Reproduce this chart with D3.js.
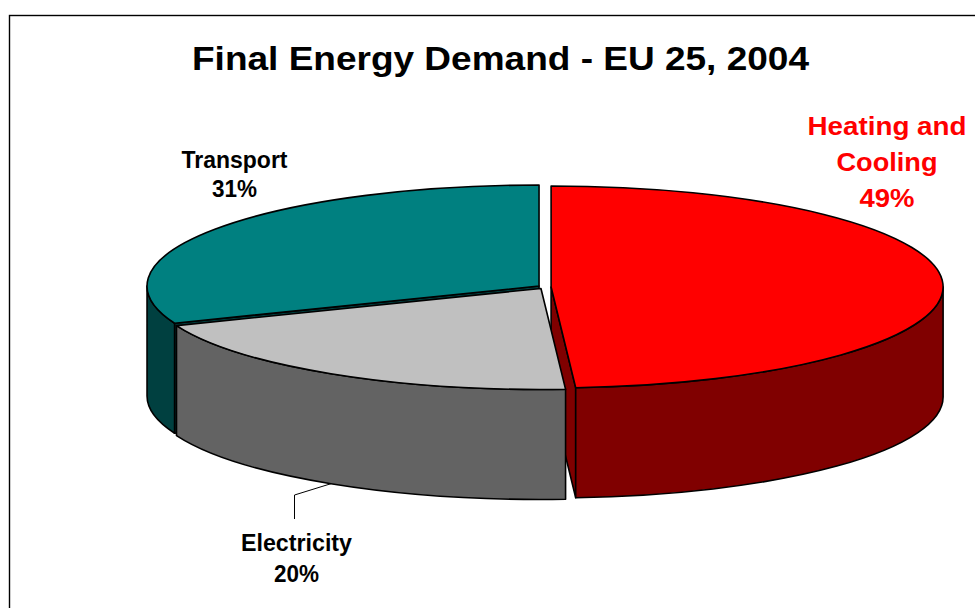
<!DOCTYPE html>
<html><head><meta charset="utf-8">
<script src="https://cdn.jsdelivr.net/npm/d3@7"></script>
<style>html,body{margin:0;padding:0;background:#fff;overflow:hidden}</style>
</head><body>
<svg id="c" width="975" height="608"></svg>
<script>
// ---- data ----
const categories = ["Heating and Cooling", "Electricity", "Transport"];
const shares = [49, 20, 31];
const labelLines = [["Heating and", "Cooling", "49%"], ["Electricity", "20%"], ["Transport", "31%"]];
const topColors = ["#ff0000", "#c0c0c0", "#008080"];
const sideColors = ["#800000", "#636363", "#004040"];
const labelColors = ["#ff0000", "#000000", "#000000"];
const title = "Final Energy Demand - EU 25, 2004";

// ---- layout ----
const W = 975, H = 608;
const cx = 544.5, cy = 287, rx = 392, ry = 101, depth = 110, explode = 6.6;
const svg = d3.select("#c");
const font = "'Liberation Sans', Arial, Helvetica, sans-serif";

// frame
svg.append("rect").attr("x", 9.5).attr("y", 15.5).attr("width", W + 20).attr("height", H + 20)
  .attr("fill", "#fff").attr("stroke", "#000").attr("stroke-width", 1.4);

const pie = d3.pie().sort(null).value(d => d).startAngle(0).endAngle(2 * Math.PI);
const arcs = pie(shares).map((a, i) => {
  const mid = (a.startAngle + a.endAngle) / 2;
  return Object.assign(a, {
    i, mid,
    ox: cx + explode * Math.sin(mid),
    oy: cy - explode * Math.cos(mid) * (ry / rx)
  });
});

const px = d3.scaleLinear().domain([-1, 1]).range([-rx, rx]);
const py = d3.scaleLinear().domain([-1, 1]).range([-ry, ry]);
function P(a, ang, dz = 0) {
  return [a.ox + px(Math.sin(ang)), a.oy - py(Math.cos(ang)) + dz];
}
function topPath(a) {
  const p0 = P(a, a.startAngle), p1 = P(a, a.endAngle);
  const large = (a.endAngle - a.startAngle) > Math.PI ? 1 : 0;
  return `M${a.ox},${a.oy}L${p0}A${rx},${ry} 0 ${large} 1 ${p1}Z`;
}
function sidePath(a) {
  const s = Math.max(a.startAngle, Math.PI / 2), e = Math.min(a.endAngle, 3 * Math.PI / 2);
  if (e <= s) return null;
  const t0 = P(a, s), t1 = P(a, e), b1 = P(a, e, depth), b0 = P(a, s, depth);
  return `M${t0}A${rx},${ry} 0 0 1 ${t1}L${b1}A${rx},${ry} 0 0 0 ${b0}Z`;
}
function radialPath(a, ang) {
  const p = P(a, ang), pb = P(a, ang, depth);
  return `M${a.ox},${a.oy}L${p}L${pb}L${a.ox},${a.oy + depth}Z`;
}

const order = [2, 0, 1]; // back to front
const g = svg.append("g").attr("stroke", "#000").attr("stroke-width", 1.6).attr("stroke-linejoin", "round");
order.forEach(i => {
  const a = arcs[i];
  const sg = g.append("g");
  if (Math.sin(a.startAngle) < -1e-6) sg.append("path").attr("d", radialPath(a, a.startAngle)).attr("fill", sideColors[i]);
  if (Math.sin(a.endAngle) > 1e-6) sg.append("path").attr("d", radialPath(a, a.endAngle)).attr("fill", sideColors[i]);
  const sp = sidePath(a);
  if (sp) sg.append("path").attr("d", sp).attr("fill", sideColors[i]);
  sg.append("path").attr("d", topPath(a)).attr("fill", topColors[i]);
});

// title
svg.append("text").attr("x", 500.5).attr("y", 70).attr("text-anchor", "middle")
  .attr("font-family", font).attr("font-weight", "bold").attr("font-size", 32.5)
  .attr("textLength", 617).attr("lengthAdjust", "spacingAndGlyphs").text(title);

// labels (position, size, line spacing, widths)
const labelLayout = [
  { x: 887, y: 135, size: 26, lh: 36, widths: [159, 101, 55] },
  { x: 296.5, y: 550.5, size: 23, lh: 31, widths: [111, 45] },
  { x: 234.5, y: 167.5, size: 23, lh: 29.5, widths: [106, 45] }
];
labelLines.forEach((lines, i) => {
  const L = labelLayout[i];
  lines.forEach((t, j) => {
    svg.append("text").attr("x", L.x).attr("y", L.y + j * L.lh).attr("text-anchor", "middle")
      .attr("font-family", font).attr("font-weight", "bold").attr("font-size", L.size)
      .attr("fill", labelColors[i])
      .attr("textLength", L.widths[j]).attr("lengthAdjust", "spacingAndGlyphs").text(t);
  });
});

// leader line for Electricity
const e = arcs[1];
const lp = P(e, e.mid, depth);
svg.append("polyline")
  .attr("points", [lp, [294.5, 495], [294.5, 519]].map(p => p.join(",")).join(" "))
  .attr("fill", "none").attr("stroke", "#000").attr("stroke-width", 1);
</script>
</body></html>
